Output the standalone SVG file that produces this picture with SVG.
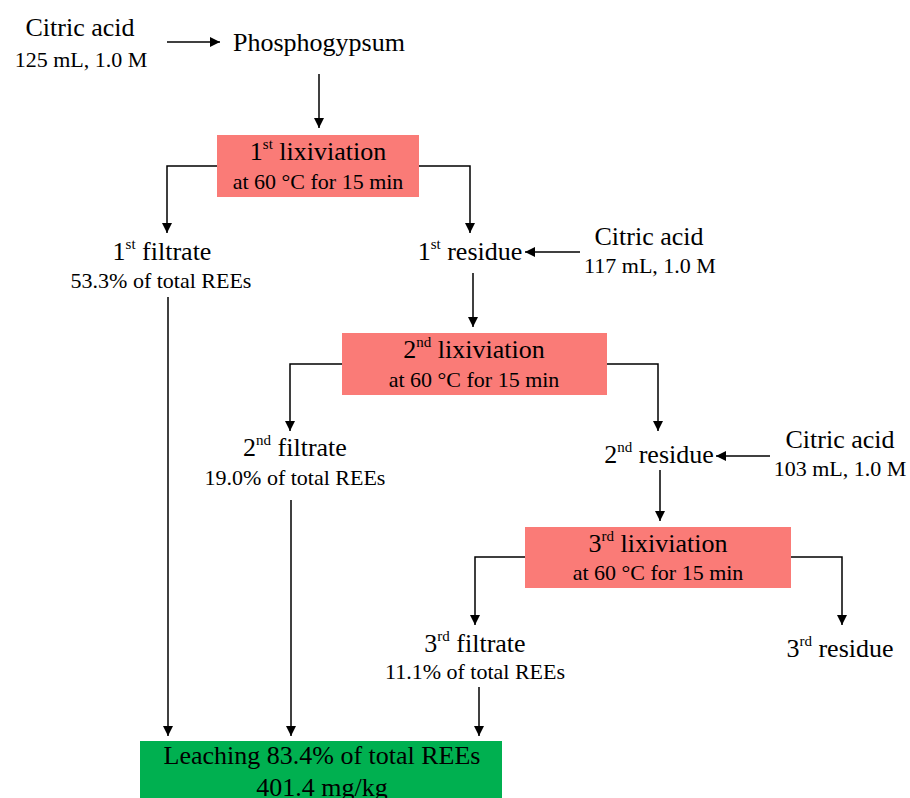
<svg xmlns="http://www.w3.org/2000/svg" width="910" height="798" viewBox="0 0 910 798">
<defs>
<marker id="ah" viewBox="0 0 10 10" refX="10" refY="5" markerWidth="10" markerHeight="10" markerUnits="userSpaceOnUse" orient="auto">
<path d="M0,0 L10,5 L0,10 Z" fill="#000"/>
</marker>
<style>
.b{font-size:26px}
.s{font-size:22px}
.sup{font-size:15px}
.box{fill:#FA7B77}
.green{fill:#00B050}
.ca{fill:none;stroke:#000;stroke-width:1.5;marker-end:url(#ah)}
</style>
</defs>
<rect width="910" height="798" fill="#fff"/>
<g id="connectors">
<line class="ca" x1="167" y1="42" x2="220" y2="42"/>
<line class="ca" x1="319" y1="74" x2="319" y2="128"/>
<polyline class="ca" points="217,166 167,166 167,233"/>
<polyline class="ca" points="419,166 470,166 470,233"/>
<line class="ca" x1="580" y1="252" x2="525" y2="252"/>
<line class="ca" x1="473" y1="273" x2="473" y2="327"/>
<polyline class="ca" points="342,364 290,364 290,431"/>
<polyline class="ca" points="607,364 658,364 658,431"/>
<line class="ca" x1="770" y1="456" x2="716" y2="456"/>
<line class="ca" x1="660" y1="470" x2="660" y2="521"/>
<polyline class="ca" points="525,557 475,557 475,625"/>
<polyline class="ca" points="791,557 842,557 842,625"/>
<line class="ca" x1="168" y1="297" x2="168" y2="736"/>
<line class="ca" x1="291" y1="500" x2="291" y2="736"/>
<line class="ca" x1="479" y1="687" x2="479" y2="736"/>
</g>
<g font-family="Liberation Serif, DejaVu Serif, serif" text-anchor="middle" fill="#000">
<g id="citric1">
<text class="b" x="80" y="36">Citric acid</text>
<text class="s" x="81" y="67">125 mL, 1.0 M</text>
</g>
<g id="phosphogypsum">
<text class="b" x="319" y="51">Phosphogypsum</text>
</g>
<g id="lix1">
<rect class="box" x="217" y="135" width="202" height="62"/>
<text class="b" x="318" y="160">1<tspan class="sup" dy="-11">st</tspan><tspan dy="11"> lixiviation</tspan></text>
<text class="s" x="318" y="189">at 60 °C for 15 min</text>
</g>
<g id="filtrate1">
<text class="b" x="162" y="260">1<tspan class="sup" dy="-11">st</tspan><tspan dy="11"> filtrate</tspan></text>
<text class="s" x="161" y="288">53.3% of total REEs</text>
</g>
<g id="residue1">
<text class="b" x="470" y="260">1<tspan class="sup" dy="-11">st</tspan><tspan dy="11"> residue</tspan></text>
</g>
<g id="citric2">
<text class="b" x="649" y="245">Citric acid</text>
<text class="s" x="650" y="273">117 mL, 1.0 M</text>
</g>
<g id="lix2">
<rect class="box" x="342" y="333" width="265" height="62"/>
<text class="b" x="474" y="358">2<tspan class="sup" dy="-11">nd</tspan><tspan dy="11"> lixiviation</tspan></text>
<text class="s" x="474" y="387">at 60 °C for 15 min</text>
</g>
<g id="filtrate2">
<text class="b" x="295" y="456">2<tspan class="sup" dy="-11">nd</tspan><tspan dy="11"> filtrate</tspan></text>
<text class="s" x="295" y="485">19.0% of total REEs</text>
</g>
<g id="residue2">
<text class="b" x="659" y="463">2<tspan class="sup" dy="-11">nd</tspan><tspan dy="11"> residue</tspan></text>
</g>
<g id="citric3">
<text class="b" x="840" y="448">Citric acid</text>
<text class="s" x="840" y="476">103 mL, 1.0 M</text>
</g>
<g id="lix3">
<rect class="box" x="525" y="527" width="266" height="61"/>
<text class="b" x="658" y="552">3<tspan class="sup" dy="-11">rd</tspan><tspan dy="11"> lixiviation</tspan></text>
<text class="s" x="658" y="580">at 60 °C for 15 min</text>
</g>
<g id="filtrate3">
<text class="b" x="475" y="652">3<tspan class="sup" dy="-11">rd</tspan><tspan dy="11"> filtrate</tspan></text>
<text class="s" x="475" y="679">11.1% of total REEs</text>
</g>
<g id="residue3">
<text class="b" x="840" y="657">3<tspan class="sup" dy="-11">rd</tspan><tspan dy="11"> residue</tspan></text>
</g>
<g id="leaching">
<rect class="green" x="140" y="741" width="362" height="70"/>
<text class="b" x="322" y="764">Leaching 83.4% of total REEs</text>
<text class="b" x="322" y="796">401.4 mg/kg</text>
</g>
</g>
</svg>
